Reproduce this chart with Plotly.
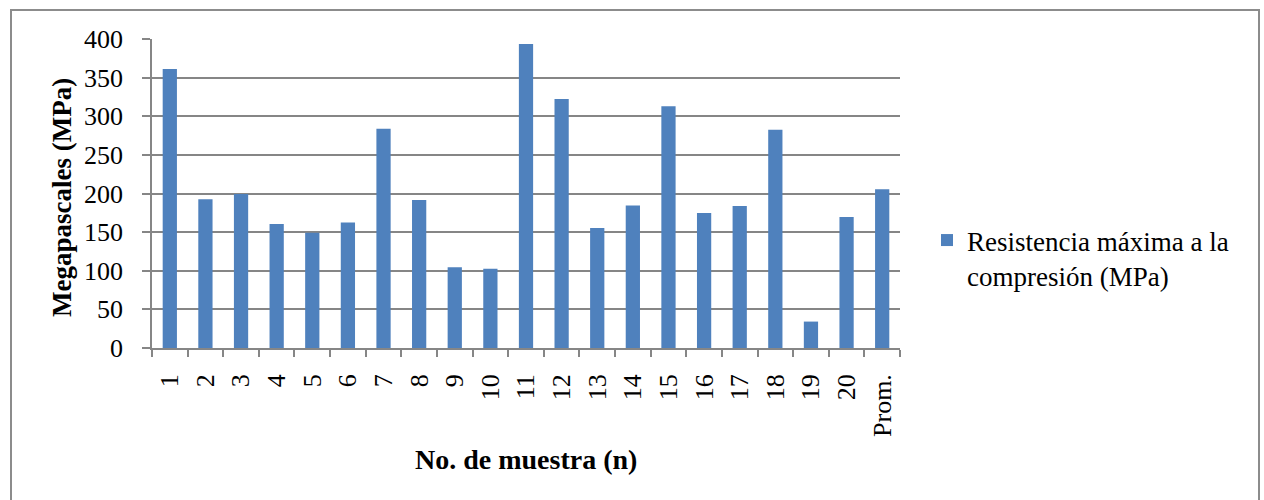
import plotly.graph_objects as go

# Sample labels and maximum compressive strength (MPa)
muestras = ["1", "2", "3", "4", "5", "6", "7", "8", "9", "10",
            "11", "12", "13", "14", "15", "16", "17", "18", "19", "20", "Prom."]
resistencia = [361.1, 192.4, 199.4, 160.4, 149.2, 162.6, 283.7, 191.6, 104.6, 102.5,
               393.5, 322.2, 155.2, 184.6, 313.1, 174.7, 183.8, 282.4, 34.2, 169.5, 205.4]
y_ticks = [0, 50, 100, 150, 200, 250, 300, 350, 400]

serie = "Resistencia máxima a la<br>compresión (MPa)"

W, H = 1264, 500
L, R, T, B = 152, 364, 39, 152
pw, ph = W - L - R, H - T - B

def px_x(p):
    return (p - L) / pw

def px_y(p):
    return (H - B - p) / ph

grey = "#868686"
serif = "Liberation Serif, Times New Roman, serif"

fig = go.Figure()
fig.add_trace(go.Bar(
    x=muestras, y=resistencia, name=serie,
    marker=dict(color="#4F81BD", line=dict(width=0)),
    showlegend=True,
))

fig.update_layout(
    width=W, height=H,
    margin=dict(l=L, r=R, t=T, b=B, pad=0),
    paper_bgcolor="white", plot_bgcolor="white",
    bargap=0.6,
    font=dict(family=serif, size=26, color="black"),
    showlegend=True,
    legend=dict(
        x=px_x(927), y=px_y(216), xanchor="left", yanchor="top",
        font=dict(family=serif, size=27, color="black"),
        valign="top", bgcolor="rgba(0,0,0,0)", tracegroupgap=0,
    ),
    shapes=[dict(
        type="rect", xref="paper", yref="paper",
        x0=px_x(11), x1=px_x(1259), y0=px_y(520), y1=px_y(10),
        line=dict(color="#8c8c8c", width=2), fillcolor="rgba(0,0,0,0)", layer="below",
    )],
    annotations=[
        dict(text="<b>No. de muestra (n)</b>", xref="paper", yref="paper",
             x=px_x(526), y=px_y(459), xanchor="center", yanchor="middle",
             showarrow=False, font=dict(family=serif, size=28, color="black")),
        dict(text="<b>Megapascales (MPa)</b>", xref="paper", yref="paper",
             x=px_x(62), y=px_y(198), xanchor="center", yanchor="middle",
             textangle=-90, showarrow=False,
             font=dict(family=serif, size=27, color="black")),
    ],
)

fig.update_xaxes(
    type="category", showline=True, linecolor=grey, linewidth=1.5,
    ticks="outside", ticklen=7, tickcolor=grey, tickwidth=1.5,
    tickson="boundaries", tickangle=-90, ticklabelstandoff=14,
    tickfont=dict(family=serif, size=26, color="black"),
    showgrid=False, zeroline=False,
)
fig.update_yaxes(
    range=[0, 400], tickvals=y_ticks, showline=True, linecolor=grey, linewidth=1.5,
    ticks="outside", ticklen=8, tickcolor=grey, tickwidth=1.5, ticklabelstandoff=14,
    tickfont=dict(family=serif, size=26, color="black"),
    showgrid=True, gridcolor=grey, gridwidth=1.5, zeroline=False,
)

fig.write_html("out.html")
